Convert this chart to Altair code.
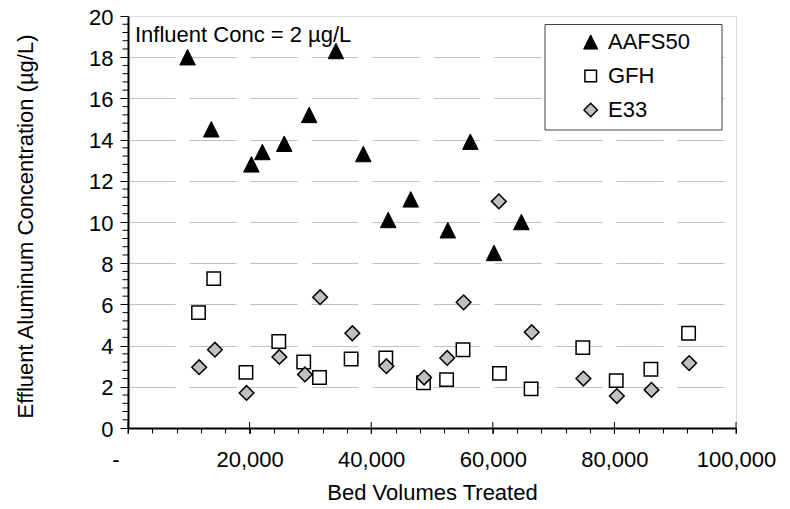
import altair as alt
import pandas as pd

# ---- data ----
series_names = ["AAFS50", "GFH", "E33"]

aafs_bv = [9800, 13700, 20300, 22100, 25700, 29800, 34200, 38700, 42800, 46500,
           52600, 56300, 60200, 64700]
aafs_al = [18.0, 14.5, 12.8, 13.4, 13.8, 15.2, 18.3, 13.3, 10.1, 11.1,
           9.6, 13.9, 8.5, 10.0]

gfh_bv = [11600, 14100, 19400, 24800, 28900, 31500, 36700, 42400, 48600, 52400,
          55100, 61100, 66300, 74800, 80300, 86000, 92200]
gfh_al = [5.6, 7.25, 2.7, 4.2, 3.2, 2.45, 3.35, 3.4, 2.2, 2.35,
          3.8, 2.65, 1.9, 3.9, 2.3, 2.85, 4.6]

e33_bv = [11700, 14300, 19500, 24900, 29100, 31600, 36900, 42500, 48700, 52500,
          55200, 61000, 66400, 74900, 80400, 86100, 92300]
e33_al = [2.95, 3.8, 1.7, 3.45, 2.6, 6.35, 4.6, 3.0, 2.45, 3.4,
          6.1, 11.0, 4.65, 2.4, 1.55, 1.85, 3.15]

x_major = [0, 20000, 40000, 60000, 80000, 100000]
x_ticks = list(range(0, 100001, 4000))
y_major = list(range(0, 21, 2))
y_minor = [round(i * 0.4, 1) for i in range(51) if i % 5 != 0]
annotation = ["Influent Conc = 2 \u00b5g/L"]

FONT = "Liberation Sans"
FS = 22

series_data = {
    "AAFS50": (aafs_bv, aafs_al),
    "GFH": (gfh_bv, gfh_al),
    "E33": (e33_bv, e33_al),
}
styles = {
    "AAFS50": dict(shape="M0,-1L1,1L-1,1Z", fill="#000000", size=240, strokeWidth=1),
    "GFH": dict(shape="square", fill="#ffffff", size=180, strokeWidth=1.5),
    "E33": dict(shape="diamond", fill="#c0c0c0", size=215, strokeWidth=1.5),
}
legend_sizes = {"AAFS50": 200, "GFH": 135, "E33": 180}
legend_rows = {"AAFS50": 26, "GFH": 60, "E33": 94}   # pixel rows inside the legend box

x_enc = alt.X(
    "bv:Q",
    scale=alt.Scale(domain=[0, 100000], nice=False, zero=True),
    axis=alt.Axis(
        values=x_ticks, tickCount=200,
        labelExpr="datum.value % 20000 == 0 ? (datum.value == 0 ? '-' : format(datum.value, ',')) : ''",
        labelOffset={"condition": {"test": "datum.value == 0", "value": -12.5}, "value": 0},
        tickSize=5, tickColor="black", tickWidth=1,
        domainColor="black", domainWidth=2,
        grid=False,
        labelFont=FONT, labelFontSize=FS, labelColor="black",
        labelBaseline="alphabetic", labelPadding=33,
        title="Bed Volumes Treated", titleFont=FONT, titleFontSize=FS,
        titleFontWeight="normal", titleColor="black",
        titleX=304, titleY=71, titleBaseline="alphabetic", titleAlign="center",
        labelFlush=False, labelOverlap=False,
    ),
)
y_enc = alt.Y(
    "al:Q",
    scale=alt.Scale(domain=[0, 20], nice=False),
    axis=alt.Axis(
        values=y_major, format="d",
        tickSize=8, tickColor="black", tickWidth=1,
        domainColor="black", domainWidth=2,
        grid=True, gridColor="#c0c0c0", gridWidth=1, gridDash=[47, 14],
        gridOpacity={"condition": {"test": "datum.value == 0 || datum.value == 20",
                                   "value": 0}, "value": 1},
        labelFont=FONT, labelFontSize=FS, labelColor="black",
        labelPadding=7, labelOffset=1, labelOverlap=False, labelFlush=False,
        title="Effluent Aluminum Concentration (\u00b5g/L)", titleFont=FONT,
        titleFontSize=FS, titleFontWeight="normal", titleColor="black",
        titleAngle=270, titleX=-96, titleY=210, titleBaseline="alphabetic",
        titleAlign="center",
    ),
)

layers = []
for name in series_names:
    bv, al = series_data[name]
    st = styles[name]
    df = pd.DataFrame({"bv": bv, "al": al, "series": name})
    layers.append(
        alt.Chart(df).mark_point(
            shape=st["shape"], size=st["size"], fill=st["fill"], filled=True,
            stroke="black", strokeWidth=st["strokeWidth"], opacity=1,
        ).encode(x=x_enc, y=y_enc)
    )

# crossing major ticks on the x axis
major_ticks = alt.Chart(pd.DataFrame({"bv": x_major})).mark_tick(
    orient="vertical", size=12, thickness=1, color="black", opacity=1
).encode(x=alt.X("bv:Q"), y=alt.datum(0))

# minor ticks on the y axis
minor_y = alt.Chart(pd.DataFrame({"al": y_minor})).mark_tick(
    orient="horizontal", size=5.5, thickness=1, color="black", opacity=1, xOffset=-2.75
).encode(x=alt.datum(0), y=alt.Y("al:Q"))

note = alt.Chart(pd.DataFrame({"t": annotation})).mark_text(
    align="left", baseline="alphabetic", font=FONT, fontSize=FS, color="black"
).encode(x=alt.value(7), y=alt.value(25.7), text="t:N")

# ---- legend (box, symbols, labels) ----
box = alt.Chart(pd.DataFrame({"a": [1]})).mark_rect(
    fill="white", stroke="#404040", strokeWidth=1
).encode(x=alt.value(417), x2=alt.value(594), y=alt.value(8.5), y2=alt.value(114))

leg_layers = [box]
for name in series_names:
    st = styles[name]
    ldf = pd.DataFrame({"series": [name]})
    leg_layers.append(
        alt.Chart(ldf).mark_point(
            shape=st["shape"], size=legend_sizes[name], fill=st["fill"], filled=True,
            stroke="black", strokeWidth=st["strokeWidth"], opacity=1,
        ).encode(x=alt.value(462.7), y=alt.value(legend_rows[name]))
    )
    leg_layers.append(
        alt.Chart(ldf).mark_text(
            align="left", baseline="middle", font=FONT, fontSize=FS, color="black"
        ).encode(x=alt.value(480), y=alt.value(legend_rows[name]), text="series:N")
    )

chart = alt.layer(*layers, major_ticks, minor_y, note, *leg_layers).properties(
    width=608, height=412,
    autosize=alt.AutoSizeParams(type="none"),
    padding={"left": 120, "top": 8, "right": 42, "bottom": 76},
).configure_view(stroke="#404040", strokeWidth=1).configure(font=FONT)

chart.save("out.html", embed_options={"renderer": "svg", "actions": False})
